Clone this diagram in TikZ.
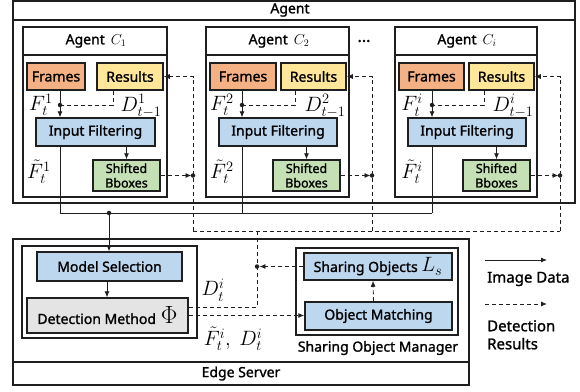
\documentclass[tikz,border=0pt]{standalone}
\usepackage{fontspec}
\setmainfont{Noto Sans}[FakeBold=1.3]
\usetikzlibrary{arrows.meta}
\definecolor{cOr}{HTML}{F4B183}
\definecolor{cYe}{HTML}{FFE699}
\definecolor{cBl}{HTML}{BDD7EE}
\definecolor{cGr}{HTML}{C5E0B4}
\definecolor{cGy}{HTML}{E4E4E4}
\definecolor{cLn}{HTML}{1F1F1F}
\begin{document}
\begin{tikzpicture}[x=1pt,y=-1pt,
  cont/.style={draw=cLn, line width=1.3pt, inner sep=0pt},
  blk/.style={draw=cLn, line width=1.5pt, inner sep=0pt, font=\fontsize{14}{17}\selectfont},
  txt/.style={inner sep=0pt, font=\fontsize{14}{18}\selectfont},
  mth/.style={inner sep=0pt, font=\fontsize{20}{22}\selectfont},
  sol/.style={draw=cLn, line width=0.8pt},
  dsh/.style={draw=cLn, line width=0.9pt, dash pattern=on 4pt off 3pt},
  arr/.style={-{Latex[length=6pt,width=5pt]}},
  jdot/.style={circle, fill=cLn, inner sep=0pt, minimum size=4.5pt},
  sbx/.style={blk, fill=cGr, align=center, font=\fontsize{12.5}{14.5}\selectfont}
]
\useasboundingbox (0,0) rectangle (580,391);

% ---------- outer agent box ----------
\node[cont, minimum width=562pt, minimum height=202pt] (AG) at (294,102) {};
\draw[cont] (13,20) -- (575,20);
\node[txt] (agt) at (290,10) {Agent};

% ---------- Agent C1 ----------
\node[cont, fill=white, minimum width=144pt, minimum height=170pt] (A1) at (95,112) {};
\draw[cont] (23,55) -- (167,55);
\node[txt] (t1) at (96,41) {Agent\, $C_1$};
\node[blk, fill=cOr, minimum width=58pt, minimum height=27pt] (f1) at (56,76.5) {Frames};
\node[blk, fill=cYe, minimum width=66pt, minimum height=27pt] (r1) at (130,76.5) {Results};
\node[blk, fill=cBl, minimum width=119pt, minimum height=28pt] (i1) at (95.5,132) {Input Filtering};
\node[sbx, minimum width=67pt, minimum height=31pt] (s1) at (126.5,175.5) {Shifted\\Bboxes};
\coordinate (j1) at (60,105);
\node[mth] (lf1) at (41,105) {$F_t^1$};
\node[mth] (ld1) at (141,106) {$D_{t-1}^1$};
\node[mth] (lt1) at (39,172) {$\tilde{F}_t^1$};

% ---------- Agent C2 ----------
\node[cont, fill=white, minimum width=143pt, minimum height=170pt] (A2) at (277.5,112) {};
\draw[cont] (206,55) -- (349,55);
\node[txt] (t2) at (279,41) {Agent\, $C_2$};
\node[blk, fill=cOr, minimum width=66pt, minimum height=27pt] (f2) at (243,76.5) {Frames};
\node[blk, fill=cYe, minimum width=65pt, minimum height=27pt] (r2) at (313.5,76.5) {Results};
\node[blk, fill=cBl, minimum width=118pt, minimum height=28pt] (i2) at (278,132) {Input Filtering};
\node[sbx, minimum width=67pt, minimum height=31pt] (s2) at (306.5,175.5) {Shifted\\Bboxes};
\coordinate (j2) at (242,105);
\node[mth] (lf2) at (222,105) {$F_t^2$};
\node[mth] (ld2) at (325,106) {$D_{t-1}^2$};
\node[mth] (lt2) at (222,172) {$\tilde{F}_t^2$};

\node[txt, font=\fontsize{16}{18}\selectfont] (dots) at (364,41) {...};

% ---------- Agent Ci ----------
\node[cont, fill=white, minimum width=142pt, minimum height=170pt] (A3) at (466,112) {};
\draw[cont] (395,55) -- (537,55);
\node[txt] (t3) at (467,41) {Agent\, $C_i$};
\node[blk, fill=cOr, minimum width=65pt, minimum height=27pt] (f3) at (431.5,76.5) {Frames};
\node[blk, fill=cYe, minimum width=65pt, minimum height=27pt] (r3) at (501.5,76.5) {Results};
\node[blk, fill=cBl, minimum width=118pt, minimum height=28pt] (i3) at (467,132) {Input Filtering};
\node[sbx, minimum width=67pt, minimum height=31pt] (s3) at (496.5,175.5) {Shifted\\Bboxes};
\coordinate (j3) at (432,105);
\node[mth] (lf3) at (412,105) {$F_t^i$};
\node[mth] (ld3) at (513,106) {$D_{t-1}^i$};
\node[mth] (lt3) at (412,172) {$\tilde{F}_t^i$};

% ---------- Edge server ----------
\node[cont, minimum width=456pt, minimum height=146pt] (ES) at (241,312) {};
\draw[cont] (13,362) -- (469,362);
\node[txt] (est) at (241,373.5) {Edge Server};
\node[cont, minimum width=175pt, minimum height=92pt] (LB) at (109.5,292) {};
\node[blk, fill=cBl, minimum width=145pt, minimum height=29pt] (ms) at (109.5,266.5) {Model Selection};
\node[blk, fill=cGy, minimum width=161pt, minimum height=35pt] (dm) at (107.5,315.5) {Detection Method\hspace{5pt}{\fontsize{24}{26}\selectfont$\Phi$}};
\node[cont, minimum width=162pt, minimum height=87pt] (SM) at (377,291.5) {};
\node[txt] (smt) at (378,348) {Sharing Object Manager};
\node[blk, fill=cBl, minimum width=148pt, minimum height=27pt] (so) at (378,266.5) {Sharing Objects {\fontsize{20}{22}\selectfont$L_s$}};
\node[blk, fill=cBl, minimum width=147pt, minimum height=28pt] (om) at (378.5,316) {Object Matching};
\node[mth] (ldt) at (213,290) {$D_t^i$};
\node[mth] (lfd) at (233,339) {$\tilde{F}_t^i,\ D_t^i$};

% ---------- connectors inside agents ----------
\foreach \k/\sh in {1/-17pt,2/-18.5pt,3/-17.5pt}{
  \node[jdot] (jd\k) at (j\k) {};
  \draw[sol, arr] (f\k.south -| j\k) -- (i\k.north -| j\k);
  \draw[dsh] ([xshift=\sh]r\k.south) |- (jd\k);
  \draw[sol, arr] (s\k.north |- i\k.south) -- (s\k.north);
}
\coordinate (v1) at (193,231);
\coordinate (v2) at (372,231);
\coordinate (v3) at (560,231);
\foreach \k in {1,2,3}{
  \draw[dsh, arr] (v\k) -- (v\k |- r\k.east) -- (r\k.east);
  \draw[dsh, arr, shorten >=1.5pt] (s\k.east) -- (s\k.east -| v\k);
  \node[jdot] (vd\k) at (s\k.east -| v\k) {};
}
\draw[dsh] (v1) -- (v3);

% solid image-data lines
\coordinate (b1) at (60,213);
\coordinate (b2) at (242,213);
\coordinate (b3) at (432,213);
\draw[sol] (i1.south -| j1) -- (b1) -- (b3);
\draw[sol] (i2.south -| j2) -- (b2);
\draw[sol] (i3.south -| j3) -- (b3);
\node[jdot] (bm) at (109,213) {};
\draw[sol, arr] (bm) -- (bm |- ms.north);

% ---------- server connectors ----------
\draw[sol, arr] (ms.south -| 107,0) -- (dm.north -| 107,0);
\coordinate (dtop) at (257,231);
\coordinate (dv) at (257,307);
\draw[dsh] (dm.east |- dv) -- (dv) -- (dtop);
\node[jdot] (sd) at (so.west -| dv) {};
\draw[dsh, arr] (so.west) -- (sd);
\draw[dsh, arr] (dm.east) -- (dm.east -| om.west);
\draw[dsh, arr] ([xshift=-5pt]om.north) -- ([xshift=-5pt]so.south);

% ---------- legend ----------
\coordinate (la) at (485,260);
\coordinate (lb) at (547,260);
\draw[sol, arr] (la) -- (lb);
\node[txt, anchor=west, font=\fontsize{15}{18}\selectfont] (lt) at (487,279) {Image Data};
\coordinate (lc) at (485,304);
\coordinate (ld) at (547,304);
\draw[dsh, arr] (lc) -- (ld);
\node[txt, anchor=north west, align=left, font=\fontsize{15}{18}\selectfont] (lr) at (487,320) {Detection\\Results};
\end{tikzpicture}
\end{document}
